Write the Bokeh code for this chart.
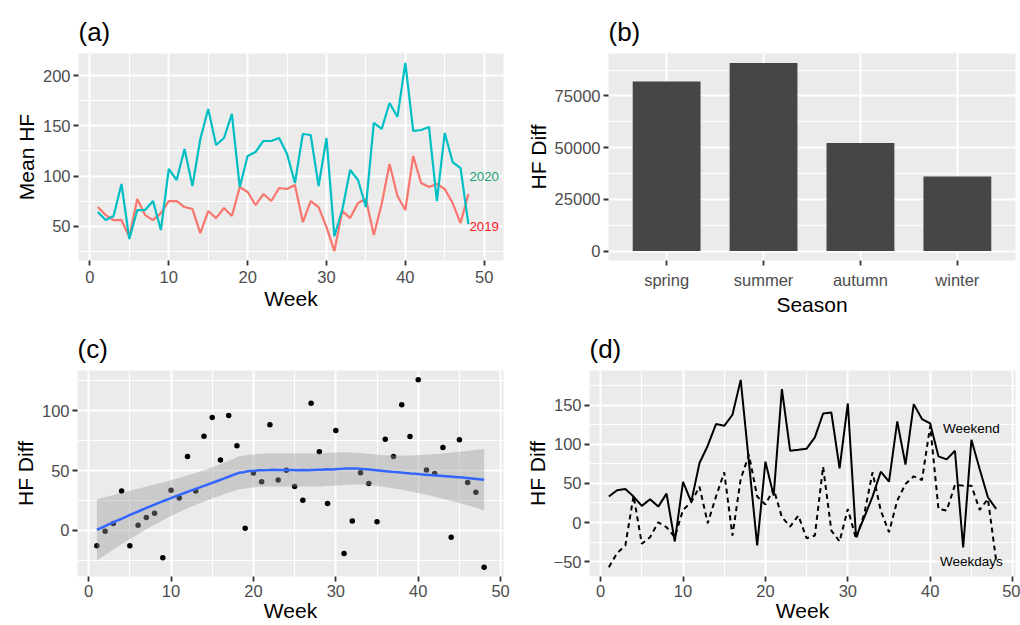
import numpy as np
from bokeh.plotting import figure
from bokeh.layouts import column, row
from bokeh.models import Range1d, FixedTicker, PrintfTickFormatter
from bokeh.embed import file_html
from bokeh.resources import INLINE
from bokeh.core.properties import value

# ---------------- data ----------------
weeks = list(range(1, 49))
hf_2019 = [69, 61, 56, 56, 39, 77, 61, 56, 63, 75,
           75, 69, 67, 43, 65, 58, 68, 60, 89, 84,
           71, 82, 75, 88, 87, 91, 54, 75, 69, 49,
           25, 65, 58, 73, 77, 41, 72, 112, 80, 66,
           120, 93, 89, 92, 87, 73, 53, 82]
hf_2020 = [64, 56, 60, 92, 37, 66, 66, 75, 46, 107,
           96, 127, 90, 137, 167, 131, 138, 162, 89, 120,
           124, 135, 135, 138, 122, 93, 142, 141, 90, 138,
           40, 66, 106, 96, 69, 153, 147, 173, 159, 213,
           145, 146, 149, 75, 143, 114, 108, 52]
year_labels = ["2020", "2019"]
year_label_y = [100, 50]

seasons = ["spring", "summer", "autumn", "winter"]
season_diff = [82000, 91000, 52300, 36100]

hf_diff = [-12.8, -0.6, 5.8, 33.0, -12.8, 4.4, 10.8, 14.4, -22.8, 33.6,
           27.2, 61.7, 33.0, 78.8, 94.4, 58.9, 96.0, 70.8, 1.9, 48.0,
           40.8, 88.3, 42.2, 50.3, 36.7, 25.3, 106.3, 65.8, 22.5, 83.6,
           -19.2, 8.0, 48.3, 39.2, 7.2, 76.3, 61.7, 105.0, 78.6, 125.8,
           50.5, 47.5, 69.4, -5.6, 75.8, 40.0, 31.9, -30.6]

weekend = [33.2, 41.2, 43.0, 33.2, 21.3, 29.8, 20.4, 37.0, -24.2, 51.9,
           26.4, 76.1, 98.2, 125.9, 123.7, 137.8, 182.4, 77.0, -29.3, 77.8,
           34.4, 170.5, 91.8, 93.0, 94.4, 108.8, 139.4, 140.7, 69.3, 152.2,
           -18.7, 6.8, 33.2, 65.0, 52.3, 129.2, 74.0, 151.4, 132.3, 126.7,
           84.6, 80.8, 91.8, -31.9, 105.9, 68.5, 32.3, 17.4]
weekdays = [-57.0, -39.1, -29.3, 34.4, -27.2, -18.7, 0.4, -6.0, -18.7, 16.2,
            25.9, 45.9, -0.9, 33.2, 64.2, -16.6, 55.7, 86.7, 33.2, 23.0,
            43.0, 6.8, -5.1, 8.9, -20.0, -16.6, 71.4, -10.2, -24.2, 17.4,
            -20.8, 11.1, 64.2, 15.3, -12.3, 28.1, 49.3, 59.1, 54.4, 123.7,
            17.4, 15.3, 48.0, 47.2, 47.2, 16.2, 30.2, -48.5]
day_labels = ["Weekend", "Weekdays"]
day_label_y = [120, -50]

# ---------------- helpers ----------------
FONT = "Liberation Sans"
BG = "#EBEBEB"


def expand(lo, hi, mult=0.05):
    d = (hi - lo) * mult
    return lo - d, hi + d


def loess_matrix(x, xeval, span=0.75, deg=1):
    n = len(x)
    q = int(np.floor(n * span))
    L = np.zeros((len(xeval), n))
    for k, x0 in enumerate(xeval):
        d = np.abs(x - x0)
        h = np.sort(d)[q - 1]
        w = np.clip(1 - (d / h) ** 3, 0, None) ** 3
        X = np.column_stack([(x - x0) ** j for j in range(deg + 1)])
        XtW = X.T * w
        L[k] = np.linalg.solve(XtW @ X, XtW)[0]
    return L


def t_quantile_975(df):
    z = 1.959963985
    g1 = (z ** 3 + z) / 4
    g2 = (5 * z ** 5 + 16 * z ** 3 + 3 * z) / 96
    g3 = (3 * z ** 7 + 19 * z ** 5 + 17 * z ** 3 - 15 * z) / 384
    return z + g1 / df + g2 / df ** 2 + g3 / df ** 3


def style(p, xticks, xminor, yticks, yminor, title, bottom_row=False):
    p.background_fill_color = BG
    p.border_fill_color = "white"
    p.outline_line_color = None
    p.xaxis.ticker = FixedTicker(ticks=xticks, minor_ticks=xminor)
    p.yaxis.ticker = FixedTicker(ticks=yticks, minor_ticks=yminor)
    p.grid.grid_line_color = "white"
    p.grid.grid_line_width = 2
    p.grid.minor_grid_line_color = "white"
    p.grid.minor_grid_line_width = 1
    for ax in p.axis:
        ax.axis_line_color = None
        ax.minor_tick_line_color = None
        ax.major_tick_in = 0
        ax.major_tick_out = 5
        ax.major_tick_line_color = "#333333"
        ax.major_tick_line_width = 1.8
        ax.major_label_text_color = "#4D4D4D"
        ax.major_label_text_font = FONT
        ax.major_label_text_font_size = "16.5px"
        ax.axis_label_text_font = FONT
        ax.axis_label_text_font_size = "21px"
        ax.axis_label_text_font_style = "normal"
        ax.axis_label_text_color = "black"
    if bottom_row:
        p.xaxis.major_label_standoff = 3
        p.xaxis.axis_label_standoff = -1
    else:
        p.xaxis.major_label_standoff = 5
        p.xaxis.axis_label_standoff = 1
    p.yaxis.major_label_standoff = 3
    p.yaxis.axis_label_standoff = 2
    p.title.text = title
    p.title.text_font = FONT
    p.title.text_font_size = "26px"
    p.title.text_font_style = "normal"
    p.title.text_color = "black"
    p.title.align = "left"
    p.title.offset = 0
    p.title.standoff = 13


wk = np.array(weeks, dtype=float)
week_ticks = [0, 10, 20, 30, 40, 50]
week_minor = [5, 15, 25, 35, 45]
label_x_a = 50
label_x_d = 45

# ---------------- (a) ----------------
xa = expand(min(weeks), label_x_a)
ya = expand(min(hf_2019 + hf_2020), max(hf_2019 + hf_2020))
pa = figure(width=520, height=318, x_range=Range1d(*xa), y_range=Range1d(*ya),
            output_backend="svg", toolbar_location=None,
            min_border_left=78, min_border_right=17, min_border_top=53, min_border_bottom=58)
style(pa, week_ticks, week_minor, [50, 100, 150, 200], [25, 75, 125, 175], "(a)")
pa.line(weeks, hf_2019, line_color="#F8766D", line_width=2.2)
pa.line(weeks, hf_2020, line_color="#00BFC4", line_width=2.2)
pa.text(x=[label_x_a], y=[year_label_y[0]], text=[year_labels[0]], text_color="#1B9E77",
        text_font=value(FONT), text_font_size="13.3px", text_align="center", text_baseline="middle")
pa.text(x=[label_x_a], y=[year_label_y[1]], text=[year_labels[1]], text_color="#FF2020",
        text_font=value(FONT), text_font_size="13.3px", text_align="center", text_baseline="middle")
pa.xaxis.axis_label = "Week"
pa.yaxis.axis_label = "Mean HF"

# ---------------- (b) ----------------
xb_pos = list(range(1, len(seasons) + 1))
yb = expand(0, max(season_diff))
pb = figure(width=500, height=318, x_range=Range1d(0.4, len(seasons) + 0.6), y_range=Range1d(*yb),
            output_backend="svg", toolbar_location=None,
            min_border_left=88, min_border_right=5, min_border_top=51, min_border_bottom=58)
style(pb, xb_pos, [], [0, 25000, 50000, 75000], [12500, 37500, 62500, 87500], "(b)")
pb.xaxis.major_label_overrides = {i: s for i, s in zip(xb_pos, seasons)}
pb.yaxis.formatter = PrintfTickFormatter(format="%d")
pb.vbar(x=xb_pos, top=season_diff, bottom=0, width=0.7, fill_color="#464646", line_color=None)
pb.xaxis.axis_label = "Season"
pb.yaxis.axis_label = "HF Diff"

# ---------------- (c) ----------------
yc_arr = np.array(hf_diff)
xs = np.linspace(wk.min(), wk.max(), 80)
L_data = loess_matrix(wk, wk)
L_eval = loess_matrix(wk, xs)
fit = L_eval @ yc_arr
res = yc_arr - L_data @ yc_arr
IL = np.eye(len(wk)) - L_data
M = IL.T @ IL
d1 = np.trace(M)
d2 = np.trace(M @ M)
s = np.sqrt(np.sum(res ** 2) / d1)
se = s * np.sqrt(np.sum(L_eval ** 2, axis=1))
tq = t_quantile_975(d1 ** 2 / d2)
lo, hi = fit - tq * se, fit + tq * se

xc = expand(min(weeks), max(weeks))
yc = expand(min(hf_diff), max(hf_diff))
pc = figure(width=520, height=307, x_range=Range1d(*xc), y_range=Range1d(*yc),
            output_backend="svg", toolbar_location=None,
            min_border_left=77, min_border_right=17, min_border_top=52, min_border_bottom=49)
style(pc, week_ticks, week_minor, [0, 50, 100], [-25, 25, 75, 125], "(c)", bottom_row=True)
pc.scatter(weeks, hf_diff, size=5.5, fill_color="black", line_color=None)
pc.varea(x=xs, y1=lo, y2=hi, fill_color="#999999", fill_alpha=0.4)
pc.line(xs, fit, line_color="#3366FF", line_width=2.5)
pc.xaxis.axis_label = "Week"
pc.yaxis.axis_label = "HF Diff"

# ---------------- (d) ----------------
yd = expand(min(weekend + weekdays), max(weekend + weekdays))
pd_ = figure(width=500, height=307, x_range=Range1d(*xc), y_range=Range1d(*yd),
             output_backend="svg", toolbar_location=None,
             min_border_left=69, min_border_right=5, min_border_top=52, min_border_bottom=49)
style(pd_, week_ticks, week_minor, [-50, 0, 50, 100, 150], [-25, 25, 75, 125, 175], "(d)", bottom_row=True)
pd_.line(weeks, weekdays, line_color="black", line_width=2, line_dash="5 4")
pd_.line(weeks, weekend, line_color="black", line_width=2)
pd_.text(x=[label_x_d, label_x_d], y=day_label_y, text=day_labels, text_color="black",
         text_font=value(FONT), text_font_size="13.5px", text_align="center", text_baseline="middle")
pd_.xaxis.axis_label = "Week"
pd_.yaxis.axis_label = "HF Diff"

layout = column(row(pa, pb), row(pc, pd_))
open("out.html", "w").write(file_html(layout, INLINE))
